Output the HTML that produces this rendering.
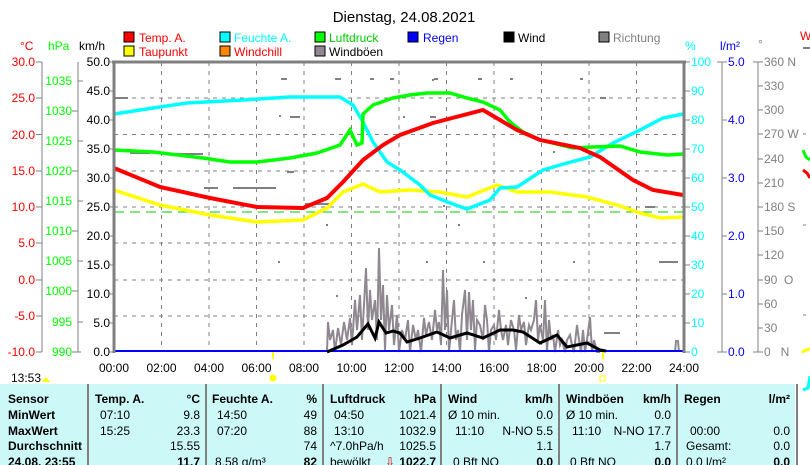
<!DOCTYPE html>
<html><head><meta charset="utf-8"><style>
html,body{margin:0;padding:0;background:#fff;}
svg{display:block;font-family:"Liberation Sans",sans-serif;}
</style></head><body>
<svg width="810" height="465" viewBox="0 0 810 465" xmlns="http://www.w3.org/2000/svg">
<rect width="810" height="465" fill="#fff"/>
<text x="404" y="22" font-size="15" text-anchor="middle" fill="#000">Dienstag, 24.08.2021</text>
<g font-size="12">
<rect x="124" y="32" width="10" height="10" fill="#f00" stroke="#000"/><text x="139" y="42" fill="#f00">Temp. A.</text>
<rect x="124" y="46" width="10" height="10" fill="#ff0" stroke="#000"/><text x="139" y="56" fill="#f00">Taupunkt</text>
<rect x="220" y="32" width="10" height="10" fill="#0ff" stroke="#000"/><text x="234" y="42" fill="#0ff">Feuchte A.</text>
<rect x="220" y="46" width="10" height="10" fill="#f80" stroke="#000"/><text x="234" y="56" fill="#f00">Windchill</text>
<rect x="315" y="32" width="10" height="10" fill="#0f0" stroke="#000"/><text x="329" y="42" fill="#0c0">Luftdruck</text>
<rect x="315" y="46" width="10" height="10" fill="#908890" stroke="#000"/><text x="329" y="56" fill="#000">Windböen</text>
<rect x="408" y="32" width="10" height="10" fill="#00f" stroke="#000"/><text x="423" y="42" fill="#00f">Regen</text>
<rect x="504" y="32" width="10" height="10" fill="#000" stroke="#000"/><text x="518" y="42" fill="#000">Wind</text>
<rect x="599" y="32" width="10" height="10" fill="#808080" stroke="#000"/><text x="613" y="42" fill="#808080">Richtung</text>
</g>
<g font-size="12">
<text x="20" y="50" fill="#f00">°C</text>
<text x="48" y="50" fill="#0f0">hPa</text>
<text x="79" y="50" fill="#000">km/h</text>
<text x="685" y="50" fill="#0ff">%</text>
<text x="720" y="50" fill="#00f">l/m²</text>
<text x="758" y="48" fill="#808080">°</text>
<text x="800" y="40" fill="#f00">W</text>
</g>
<g stroke="#808080" stroke-width="1" stroke-dasharray="4,5">
<line x1="161.5" y1="62" x2="161.5" y2="352"/><line x1="209" y1="62" x2="209" y2="352"/><line x1="256.5" y1="62" x2="256.5" y2="352"/><line x1="304" y1="62" x2="304" y2="352"/><line x1="351.5" y1="62" x2="351.5" y2="352"/><line x1="399" y1="62" x2="399" y2="352"/><line x1="446.5" y1="62" x2="446.5" y2="352"/><line x1="494" y1="62" x2="494" y2="352"/><line x1="541.5" y1="62" x2="541.5" y2="352"/><line x1="589" y1="62" x2="589" y2="352"/><line x1="636.5" y1="62" x2="636.5" y2="352"/>
<line x1="114" y1="98" x2="684" y2="98"/><line x1="114" y1="134.5" x2="684" y2="134.5"/><line x1="114" y1="171" x2="684" y2="171"/><line x1="114" y1="207" x2="684" y2="207"/><line x1="114" y1="243" x2="684" y2="243"/><line x1="114" y1="280" x2="684" y2="280"/><line x1="114" y1="316" x2="684" y2="316"/>
</g>
<line x1="114" y1="212" x2="684" y2="212" stroke="#0c0" stroke-width="1" stroke-dasharray="10,6"/>
<g stroke="#808080" stroke-width="2">
<line x1="114" y1="98" x2="128" y2="98"/><line x1="281" y1="79" x2="287" y2="79"/><line x1="335" y1="79" x2="341" y2="79"/><line x1="370" y1="79" x2="374" y2="79"/><line x1="390" y1="79" x2="394" y2="79"/><line x1="434" y1="79" x2="438" y2="79"/><line x1="478" y1="79" x2="482" y2="79"/><line x1="510" y1="79" x2="513" y2="79"/><line x1="580" y1="79" x2="583" y2="79"/>
<line x1="130" y1="153" x2="150" y2="153"/><line x1="175" y1="154" x2="203" y2="154"/><line x1="290" y1="117" x2="300" y2="117"/><line x1="204" y1="188" x2="218" y2="188"/><line x1="233" y1="188" x2="276" y2="188"/><line x1="287" y1="172" x2="294" y2="172"/><line x1="305" y1="204" x2="332" y2="204"/><line x1="645" y1="207" x2="655" y2="207"/><line x1="659" y1="262" x2="678" y2="262"/><line x1="604" y1="333" x2="620" y2="333"/><line x1="430" y1="117" x2="436" y2="117"/><line x1="600" y1="98" x2="606" y2="98"/>
</g>
<g fill="#808080">
<rect x="279" y="115" width="2" height="2"/><rect x="326" y="224" width="2" height="2"/><rect x="336" y="295" width="2" height="2"/><rect x="278" y="261" width="2" height="2"/><rect x="443" y="205" width="2" height="2"/><rect x="458" y="224" width="2" height="2"/><rect x="426" y="261" width="2" height="2"/><rect x="483" y="261" width="2" height="2"/><rect x="525" y="297" width="2" height="2"/><rect x="573" y="261" width="2" height="2"/><rect x="553" y="151" width="2" height="2"/><rect x="403" y="116" width="2" height="2"/><rect x="432" y="79" width="2" height="2"/>
</g>
<polyline fill="none" stroke="#908890" stroke-width="2" points="327,352 328,322 330,340 333,330 335,352 338,328 341,345 344,322 347,340 350,318 352,345 355,300 357,330 360,295 362,340 364,305 366,268 368,330 370,290 372,320 375,300 377,340 379,248 381,320 383,285 385,350 387,295 389,330 392,305 394,345 397,315 399,352 402,330 405,340 408,320 410,352 413,325 416,340 418,330 421,352 424,318 426,335 429,322 432,340 435,310 437,330 439,322 441,345 443,270 445,330 447,290 449,352 452,320 454,300 456,340 458,330 460,352 462,315 465,290 467,340 469,292 471,330 473,300 475,350 477,320 480,325 483,340 485,305 487,320 489,352 491,330 494,325 496,340 499,310 501,330 503,340 506,325 508,345 511,320 514,330 516,350 519,315 521,330 524,322 526,345 529,325 531,330 534,320 536,300 538,340 540,325 543,340 545,300 547,352 549,320 551,340 553,335 555,352 558,330 560,345 562,340 565,352 567,340 570,335 572,345 574,352 577,325 579,340 581,352 583,330 585,352 587,340 590,317 592,352 594,340 597,352 600,352"/>
<polyline fill="none" stroke="#908890" stroke-width="2" points="675,352 676,341 678,341 679,352"/>
<line x1="114" y1="351" x2="684" y2="351" stroke="#00f" stroke-width="2"/>
<polyline fill="none" stroke="#000" stroke-width="3" points="327,352 343,345 357,337 368,324 375,338 379,322 386,333 393,331 400,333 407,342 420,338 437,332 450,338 467,333 483,338 500,330 513,330 523,332 540,343 557,335 567,347 587,343 600,350 606,351"/>
<polyline fill="none" stroke="#ff0" stroke-width="3.5" points="114,190 160,205 210,215 257,222 303,220 327,208 343,192 363,184 380,192 410,190 440,192 467,197 497,185 517,192 550,192 587,197 617,205 640,213 660,218 683,217"/>
<polyline fill="none" stroke="#0ff" stroke-width="3.5" points="114,114 127,112 153,108 187,103 243,100 290,97 340,97 353,105 363,122 373,142 387,162 400,170 420,185 430,195 450,203 467,209 490,200 500,188 517,187 543,170 567,163 590,157 613,143 640,130 663,118 683,114"/>
<polyline fill="none" stroke="#0f0" stroke-width="3.5" points="114,150 153,152 203,158 230,162 257,162 290,158 317,153 340,145 350,130 357,145 362,143 363,114 373,105 393,98 410,95 427,93 450,93 467,98 483,102 500,110 510,122 523,132 540,140 573,148 593,147 620,146 640,152 667,155 683,154"/>
<polyline fill="none" stroke="#f00" stroke-width="4" points="114,168 160,187 210,198 257,207 303,208 327,198 343,182 363,160 383,145 400,135 433,123 483,110 500,120 517,130 540,140 580,148 600,157 633,180 653,190 683,195"/>
<line x1="112" y1="62" x2="686" y2="62" stroke="#808080" stroke-width="3"/>
<line x1="114" y1="61" x2="114" y2="353" stroke="#808080" stroke-width="3"/>
<line x1="684" y1="61" x2="684" y2="353" stroke="#808080" stroke-width="3"/>
<g stroke="#808080" stroke-width="1">
<line x1="42" y1="62" x2="42" y2="352"/><line x1="78" y1="62" x2="78" y2="352"/><line x1="722" y1="62" x2="722" y2="352"/><line x1="758" y1="62" x2="758" y2="352"/>
<line x1="36" y1="62" x2="42" y2="62"/><line x1="36" y1="98" x2="42" y2="98"/><line x1="36" y1="134.5" x2="42" y2="134.5"/><line x1="36" y1="171" x2="42" y2="171"/><line x1="36" y1="207" x2="42" y2="207"/><line x1="36" y1="243" x2="42" y2="243"/><line x1="36" y1="280" x2="42" y2="280"/><line x1="36" y1="316" x2="42" y2="316"/><line x1="36" y1="352" x2="42" y2="352"/>
<line x1="78" y1="81" x2="83" y2="81"/><line x1="72" y1="111" x2="78" y2="111"/><line x1="78" y1="141" x2="83" y2="141"/><line x1="72" y1="171" x2="78" y2="171"/><line x1="78" y1="201" x2="83" y2="201"/><line x1="72" y1="231" x2="78" y2="231"/><line x1="78" y1="261" x2="83" y2="261"/><line x1="72" y1="291" x2="78" y2="291"/><line x1="78" y1="322" x2="83" y2="322"/><line x1="72" y1="352" x2="81" y2="352"/>
<line x1="110" y1="62" x2="114" y2="62"/><line x1="110" y1="91" x2="114" y2="91"/><line x1="110" y1="120" x2="114" y2="120"/><line x1="110" y1="149" x2="114" y2="149"/><line x1="110" y1="178" x2="114" y2="178"/><line x1="110" y1="207" x2="114" y2="207"/><line x1="110" y1="236" x2="114" y2="236"/><line x1="110" y1="265" x2="114" y2="265"/><line x1="110" y1="294" x2="114" y2="294"/><line x1="110" y1="323" x2="114" y2="323"/><line x1="110" y1="352" x2="114" y2="352"/>
<line x1="684" y1="62" x2="690" y2="62"/><line x1="684" y1="91" x2="690" y2="91"/><line x1="684" y1="120" x2="690" y2="120"/><line x1="684" y1="149" x2="690" y2="149"/><line x1="684" y1="178" x2="690" y2="178"/><line x1="684" y1="207" x2="690" y2="207"/><line x1="684" y1="236" x2="690" y2="236"/><line x1="684" y1="265" x2="690" y2="265"/><line x1="684" y1="294" x2="690" y2="294"/><line x1="684" y1="323" x2="690" y2="323"/><line x1="684" y1="352" x2="690" y2="352"/>
<line x1="717" y1="62" x2="727" y2="62"/><line x1="722" y1="120" x2="727" y2="120"/><line x1="722" y1="178" x2="727" y2="178"/><line x1="722" y1="236" x2="727" y2="236"/><line x1="722" y1="294" x2="727" y2="294"/><line x1="717" y1="352" x2="727" y2="352"/>
<line x1="753" y1="62" x2="763" y2="62"/><line x1="758" y1="86" x2="763" y2="86"/><line x1="758" y1="110" x2="763" y2="110"/><line x1="758" y1="134" x2="763" y2="134"/><line x1="758" y1="159" x2="763" y2="159"/><line x1="758" y1="183" x2="763" y2="183"/><line x1="758" y1="207" x2="763" y2="207"/><line x1="758" y1="231" x2="763" y2="231"/><line x1="758" y1="255" x2="763" y2="255"/><line x1="758" y1="280" x2="763" y2="280"/><line x1="758" y1="304" x2="763" y2="304"/><line x1="758" y1="328" x2="763" y2="328"/><line x1="753" y1="352" x2="763" y2="352"/>
</g>
<g font-size="12" fill="#f00" text-anchor="end">
<text x="35" y="66">30.0</text><text x="35" y="102">25.0</text><text x="35" y="139">20.0</text><text x="35" y="175">15.0</text><text x="35" y="211">10.0</text><text x="35" y="247">5.0</text><text x="35" y="284">0.0</text><text x="35" y="320">-5.0</text><text x="35" y="356">-10.0</text>
</g>
<g font-size="12" fill="#0f0" text-anchor="end">
<text x="72" y="85">1035</text><text x="72" y="115">1030</text><text x="72" y="145">1025</text><text x="72" y="175">1020</text><text x="72" y="205">1015</text><text x="72" y="235">1010</text><text x="72" y="265">1005</text><text x="72" y="295">1000</text><text x="72" y="326">995</text><text x="72" y="356">990</text>
</g>
<g font-size="12" fill="#000" text-anchor="end">
<text x="110" y="66">50.0</text><text x="110" y="95">45.0</text><text x="110" y="124">40.0</text><text x="110" y="153">35.0</text><text x="110" y="182">30.0</text><text x="110" y="211">25.0</text><text x="110" y="240">20.0</text><text x="110" y="269">15.0</text><text x="110" y="298">10.0</text><text x="110" y="327">5.0</text><text x="110" y="356">0.0</text>
</g>
<g font-size="12" fill="#0ff">
<text x="691" y="66">100</text><text x="691" y="95">90</text><text x="691" y="124">80</text><text x="691" y="153">70</text><text x="691" y="182">60</text><text x="691" y="211">50</text><text x="691" y="240">40</text><text x="691" y="269">30</text><text x="691" y="298">20</text><text x="691" y="327">10</text><text x="691" y="356">0</text>
</g>
<g font-size="12" fill="#00f">
<text x="728" y="66">5.0</text><text x="728" y="124">4.0</text><text x="728" y="182">3.0</text><text x="728" y="240">2.0</text><text x="728" y="298">1.0</text><text x="728" y="356">0.0</text>
</g>
<g font-size="12" fill="#808080">
<text x="764" y="66">360 N</text><text x="764" y="90">330</text><text x="764" y="114">300</text><text x="764" y="138">270 W</text><text x="764" y="163">240</text><text x="764" y="187">210</text><text x="764" y="211">180 S</text><text x="764" y="235">150</text><text x="764" y="259">120</text><text x="764" y="284">90 &#160;O</text><text x="764" y="308">60</text><text x="764" y="332">30</text><text x="764" y="356">0 &#160;&#160;N</text>
</g>
<g stroke-width="3" fill="none">
<polyline stroke="#0f0" points="803,150 806,157 810,160"/>
<polyline stroke="#f00" points="803,170 807,173 810,178"/>
<polyline stroke="#ff0" points="802,352 806,350 810,349"/>
<polyline stroke="#0ff" points="803,390 808,388 810,376"/>
</g>
<line x1="803" y1="134" x2="806" y2="134" stroke="#808080"/>
<line x1="803" y1="225" x2="806" y2="225" stroke="#808080"/>
<line x1="803" y1="315" x2="806" y2="315" stroke="#808080"/>
<line x1="803" y1="48" x2="810" y2="48" stroke="#808080" stroke-width="2"/>
<g font-size="12" fill="#000" text-anchor="middle">
<text x="114" y="372">00:00</text><text x="161.5" y="372">02:00</text><text x="209" y="372">04:00</text><text x="256.5" y="372">06:00</text><text x="304" y="372">08:00</text><text x="351.5" y="372">10:00</text><text x="399" y="372">12:00</text><text x="446.5" y="372">14:00</text><text x="494" y="372">16:00</text><text x="541.5" y="372">18:00</text><text x="589" y="372">20:00</text><text x="636.5" y="372">22:00</text><text x="684" y="372">24:00</text>
</g>
<line x1="273" y1="352" x2="273" y2="359" stroke="#ff0" stroke-width="2"/>
<line x1="603" y1="352" x2="603" y2="359" stroke="#ff0" stroke-width="2"/>
<circle cx="273" cy="378" r="3.5" fill="#ff0"/>
<rect x="600" y="376" width="5" height="5" fill="none" stroke="#ff0"/>
<text x="11" y="382" font-size="12" fill="#000">13:53</text>
<path d="M42,382 L46,377 L50,382 Z" fill="#ff0"/>
<rect x="0" y="384" width="795" height="81" fill="#ccf8f8"/>
<g stroke="#808080" stroke-width="2">
<line x1="88" y1="384" x2="88" y2="465"/><line x1="206" y1="384" x2="206" y2="465"/><line x1="323" y1="384" x2="323" y2="465"/><line x1="441" y1="384" x2="441" y2="465"/><line x1="559" y1="384" x2="559" y2="465"/><line x1="677" y1="384" x2="677" y2="465"/><line x1="797" y1="384" x2="797" y2="465"/>
</g>
<g font-size="12" fill="#000" font-weight="bold">
<text x="8" y="403">Sensor</text><text x="8" y="419">MinWert</text><text x="8" y="435">MaxWert</text><text x="8" y="450">Durchschnitt</text><text x="8" y="466">24.08. 23:55</text>
<text x="95" y="403">Temp. A.</text><text x="200" y="403" text-anchor="end">°C</text>
<text x="212" y="403">Feuchte A.</text><text x="317" y="403" text-anchor="end">%</text>
<text x="330" y="403">Luftdruck</text><text x="436" y="403" text-anchor="end">hPa</text>
<text x="448" y="403">Wind</text><text x="553" y="403" text-anchor="end">km/h</text>
<text x="566" y="403">Windböen</text><text x="671" y="403" text-anchor="end">km/h</text>
<text x="684" y="403">Regen</text><text x="790" y="403" text-anchor="end">l/m²</text>
<text x="200" y="466" text-anchor="end">11.7</text><text x="317" y="466" text-anchor="end">82</text><text x="436" y="466" text-anchor="end">1022.7</text><text x="553" y="466" text-anchor="end">0.0</text><text x="671" y="466" text-anchor="end">0.0</text><text x="790" y="466" text-anchor="end">0.0</text>
</g>
<g font-size="12" fill="#000">
<text x="100" y="419">07:10</text><text x="200" y="419" text-anchor="end">9.8</text>
<text x="217" y="419">14:50</text><text x="317" y="419" text-anchor="end">49</text>
<text x="334" y="419">04:50</text><text x="436" y="419" text-anchor="end">1021.4</text>
<text x="448" y="419">Ø 10 min.</text><text x="553" y="419" text-anchor="end">0.0</text>
<text x="566" y="419">Ø 10 min.</text><text x="671" y="419" text-anchor="end">0.0</text>
<text x="100" y="435">15:25</text><text x="200" y="435" text-anchor="end">23.3</text>
<text x="217" y="435">07:20</text><text x="317" y="435" text-anchor="end">88</text>
<text x="334" y="435">13:10</text><text x="436" y="435" text-anchor="end">1032.9</text>
<text x="455" y="435">11:10</text><text x="553" y="435" text-anchor="end">N-NO 5.5</text>
<text x="572" y="435">11:10</text><text x="671" y="435" text-anchor="end">N-NO 17.7</text>
<text x="690" y="435">00:00</text><text x="790" y="435" text-anchor="end">0.0</text>
<text x="200" y="450" text-anchor="end">15.55</text><text x="317" y="450" text-anchor="end">74</text>
<text x="330" y="450">^7.0hPa/h</text><text x="436" y="450" text-anchor="end">1025.5</text>
<text x="553" y="450" text-anchor="end">1.1</text><text x="671" y="450" text-anchor="end">1.7</text>
<text x="686" y="450">Gesamt:</text><text x="790" y="450" text-anchor="end">0.0</text>
<text x="215" y="466">8.58 g/m³</text><text x="330" y="466">bewölkt</text><text x="385" y="466" fill="#c00">⇩</text>
<text x="453" y="466">0 Bft NO</text><text x="570" y="466">0 Bft NO</text><text x="686" y="466">0.0 l/m²</text>
</g>
</svg>
</body></html>
